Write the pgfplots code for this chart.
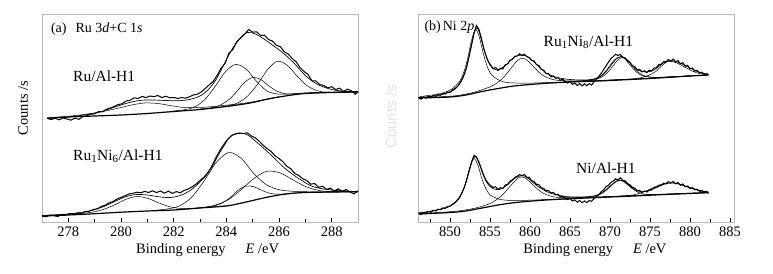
\documentclass[border=0pt]{standalone}
\usepackage{pgfplots}
\pgfplotsset{compat=1.18}
\usepackage{fontspec}
\setmainfont{Liberation Serif}
\setsansfont{Liberation Sans}
\pgfplotsset{
  xps/.style={scale only axis, width=316pt, height=208pt, anchor=south west,
    ymin=0, ymax=208, ytick=\empty, tick pos=left, xtick align=inside,
    major tick length=4pt, minor tick length=3.5pt,
    axis line style={draw=gray!55, line width=0.9pt},
    tick style={black, line width=0.5pt},
    ticklabel style={font=\fontsize{14.5}{16}\selectfont},
    xticklabel style={yshift=-1.5pt},
    /pgf/number format/assume math mode=true, clip mode=individual},
  raw/.style={black, line width=1pt},
  env/.style={black, line width=0.65pt, smooth},
  comp/.style={black, line width=0.5pt, smooth},
  bgl/.style={black, line width=1.2pt, smooth},
}
\tikzset{
  lab/.style={font=\fontsize{15.5}{17}\selectfont, anchor=base west, inner sep=0pt},
  plab/.style={font=\fontsize{14}{16}\selectfont, anchor=base west, inner sep=0pt},
  axlab/.style={font=\fontsize{14.5}{16}\selectfont, inner sep=0pt},
}
\begin{document}
\begin{tikzpicture}
\useasboundingbox (0,0) rectangle (773pt,273pt);
% ---------------- (a) ----------------
\begin{axis}[xps, at={(42pt,51pt)}, xmin=277, xmax=289,
  xtick={278,280,...,288}, minor xtick={277,279,...,289}]
% Ru/Al-H1 background
\addplot[bgl] coordinates {(277.2,103.8) (278,105) (279,106) (280,107) (281,108.5) (282,110.5) (283,112.5) (284,115.5) (284.5,117.3) (285,119.5) (285.5,122.5) (286,125) (286.5,127) (287,128.5) (288,129.5) (289,130)};
% components
\addplot[comp] coordinates {(277.2,104.2) (278.0,105.8) (278.5,107.2) (279.0,109) (279.5,111.5) (280.0,114.5) (280.4,117) (280.9,119) (281.4,118.5) (281.9,116.3) (282.4,114.5) (282.9,114.5) (283.4,115.2) (284.0,116.8) (284.5,118.2) (285,120.2) (286,125.4)};
\addplot[comp] coordinates {(282,111) (282.35,112) (282.75,114.6) (283.15,121.5) (283.55,134.6) (283.95,149.8) (284.35,157.6) (284.75,152.9) (285.15,140.6) (285.55,130.9) (285.95,128) (286.35,128) (286.8,128.8) (287.5,129.6) (289,130.4)};
\addplot[comp] coordinates {(283,113) (283.5,114.6) (283.8,117.4) (284.1,122.4) (284.4,130.6) (284.7,139.8) (285.0,144.5) (285.3,142.6) (285.6,136.4) (285.9,131.1) (286.2,128.4) (286.5,127.9) (287,128.8) (288,129.7) (289,130.2)};
\addplot[comp] coordinates {(283.5,114) (284.075,116.2) (284.45,119.3) (284.825,126.4) (285.2,138.3) (285.575,152.7) (285.95,160.8) (286.325,156.5) (286.7,145.6) (287.075,136.2) (287.45,131.3) (287.825,129.8) (288.5,129.9) (289,130.1)};
% envelope
\addplot[env] coordinates {(277.3,104) (278.0,105) (278.6,107) (279.2,110) (279.6,113.5) (280.0,117) (280.4,120) (280.8,121.8) (281.2,122) (281.7,121.5) (282.2,121.3) (282.6,122.5) (283.0,126) (283.3,132) (283.6,142) (283.9,157) (284.2,172) (284.5,183) (284.8,189.5) (285.1,188) (285.4,183.5) (285.8,176) (286.2,168) (286.6,158) (287.0,146.5) (287.4,138.5) (287.8,134) (288.2,131.5) (288.6,130.5) (289.0,130)};
% raw
\addplot[raw] coordinates {(277.2,103.5) (277.35,102.5) (277.5,103.8) (277.65,102.2) (277.8,104) (277.95,103) (278.1,101.8) (278.25,103.9) (278.4,102.6) (278.55,105.5) (278.7,106.2) (278.85,107.8) (279.0,108.2) (279.15,110.5) (279.3,110.2) (279.45,112.8) (279.6,114) (279.75,115.6) (279.9,117.5) (280.05,118.3) (280.2,121) (280.35,121.8) (280.5,124.2) (280.65,123.5) (280.8,125.6) (280.95,124.4) (281.1,126) (281.25,125.3) (281.4,126.5) (281.55,124.4) (281.7,125.8) (281.85,124.2) (282.0,124.5) (282.15,123.6) (282.3,124.4) (282.45,123.8) (282.6,125.2) (282.75,127) (282.9,127.8) (283.05,130) (283.2,133.5) (283.35,137.2) (283.5,140.5) (283.65,146.5) (283.8,153.8) (283.95,158.5) (284.1,169) (284.25,172.5) (284.4,180.5) (284.55,184) (284.7,188.2) (284.85,192.5) (285.0,189.8) (285.15,190.2) (285.3,186.5) (285.45,186.8) (285.6,182.5) (285.75,181) (285.9,176.6) (286.05,175.3) (286.2,170.2) (286.35,168) (286.5,163.5) (286.65,160.2) (286.8,154.4) (286.95,150.5) (287.1,147.6) (287.25,141.2) (287.4,141) (287.55,137.4) (287.7,136.5) (287.85,134.2) (288.0,135.3) (288.15,132.4) (288.3,133.8) (288.45,130.6) (288.6,132.8) (288.75,131.2) (288.9,127.8) (289.0,130.5)};
% Ru1Ni6/Al-H1 background
\addplot[bgl] coordinates {(277,6) (278,7) (279,8.3) (280,9.8) (281,11) (282,12) (283,14) (284,16) (284.5,18.5) (285,21.5) (285.5,24.5) (286,27) (286.5,28.7) (287,29.5) (288,30) (289,30.3)};
\addplot[comp] coordinates {(277,6.1) (278.475,8.7) (278.9,9.8) (279.325,12.5) (279.75,17.1) (280.175,22.6) (280.6,25.5) (281.025,23.6) (281.45,18.9) (281.875,15.1) (282.3,13.5) (282.725,13.6) (283.3,14.8) (284,16.2)};
\addplot[comp] coordinates {(281.2,11.5) (281.725,12.9) (282.2,15.9) (282.675,24.5) (283.15,40.8) (283.625,59.8) (284.1,69.5) (284.575,63.4) (285.05,48.2) (285.525,37.2) (286.0,32.3) (286.475,30.8) (287.0,30.3) (287.5,30.1) (289,30.4)};
\addplot[comp] coordinates {(283,14.2) (283.25,14.8) (283.55,16.1) (283.85,19.1) (284.15,24.6) (284.45,31.9) (284.75,36) (285.05,35.2) (285.35,31.6) (285.65,28.7) (285.95,27.8) (286.25,28.1) (286.8,29.2) (288,30) (289,30.3)};
\addplot[comp] coordinates {(282.5,13) (283.05,14.4) (283.55,16.7) (284.05,21.9) (284.55,32) (285.05,43.6) (285.55,50.8) (286.05,49) (286.55,41.8) (287.05,35) (287.55,31.4) (288.05,30.3) (289,30.3)};
\addplot[env] coordinates {(277.0,6.5) (278.0,8) (278.8,11) (279.3,15) (279.8,21) (280.2,25.5) (280.6,27.5) (281.0,27) (281.5,25) (281.9,24.5) (282.3,27) (282.65,32) (283.0,40) (283.3,49) (283.67,68) (283.92,78.5) (284.24,87) (284.56,88.7) (284.81,87) (285.19,79) (285.7,67) (286.21,54) (286.72,44) (287.23,36) (287.7,33) (288.2,31.5) (289.0,30.3)};
\addplot[raw] coordinates {(277.0,6) (277.15,5.2) (277.3,7) (277.45,6.3) (277.6,5.5) (277.75,7.6) (277.9,6.8) (278.05,8.5) (278.2,7.4) (278.35,9.2) (278.5,8.6) (278.65,10.4) (278.8,10.8) (278.95,12.5) (279.1,13.2) (279.25,15.5) (279.4,16.8) (279.55,19.2) (279.7,20.5) (279.85,23) (280.0,24.6) (280.15,26.2) (280.3,28) (280.45,28.6) (280.6,29.8) (280.75,29.2) (280.9,30.6) (281.05,29.5) (281.2,31.2) (281.35,29.4) (281.5,31) (281.65,28.8) (281.8,30.8) (281.95,28.6) (282.1,30.4) (282.25,29.2) (282.4,31.6) (282.55,33) (282.7,35.2) (282.85,37.8) (283.0,41.5) (283.15,44.8) (283.3,49.5) (283.45,55) (283.6,62.5) (283.75,69.8) (283.9,76) (284.05,82.5) (284.2,86.5) (284.35,88.2) (284.5,89) (284.65,88.4) (284.8,89.2) (284.95,86) (285.1,84.2) (285.25,80.8) (285.4,76.6) (285.55,73.5) (285.7,70.6) (285.85,66.2) (286.0,63.5) (286.15,60.2) (286.3,55.6) (286.45,53.2) (286.6,48.4) (286.75,46.5) (286.9,43.2) (287.05,41.6) (287.2,37.8) (287.35,38.5) (287.5,34.6) (287.65,35.8) (287.8,32.6) (287.95,33.8) (288.1,31) (288.25,33.2) (288.4,30.8) (288.55,32.4) (288.7,30) (288.85,28.2) (289.0,31.2)};
\node[plab] at (rel axis cs:0.028,0.909) {(a)\hspace{9pt}Ru 3\textit{d}+C 1\textit{s}};
\node[lab] at (rel axis cs:0.098,0.675) {Ru/Al-H1};
\node[lab] at (rel axis cs:0.098,0.298) {Ru\textsubscript{1}Ni\textsubscript{6}/Al-H1};
\node[axlab] at (rel axis cs:0.524,-0.135) {Binding energy\hspace{20pt}\textit{E} /eV};
\node[axlab, rotate=90] at (rel axis cs:-0.06,0.548) {Counts /s};
\end{axis}
% ---------------- (b) ----------------
\begin{axis}[xps, at={(418pt,51pt)}, xmin=846, xmax=885.5,
  xtick={850,855,...,885}, minor xtick={847.5,852.5,...,882.5}]
\addplot[bgl] coordinates {(846.1,124) (850,125) (852,127) (854,130.5) (856,133.5) (858,136) (860,137.5) (862,138.7) (865,140) (868,140.8) (870,141.5) (872,142.3) (875,143.5) (878,145) (880,146) (882.3,147)};
\addplot[comp] coordinates {(846.2,125.4) (848.2,127.5) (849.2,129.3) (850.2,132.8) (851.2,140.5) (851.7,149.3) (852.2,163.3) (852.7,182) (853.2,192.6) (853.7,184) (854.2,167.3) (854.7,154.5) (855.2,147.1) (856.2,141.5) (857.2,139.4) (858.2,139) (860.2,138.9) (863,139.7) (868,141.1) (875,143.7) (882.3,147.1)};
\addplot[comp] coordinates {(846.1,124.3) (849,125.3) (851,126.5) (853,129.7) (854,132.3) (855,135.1) (855.5,137.1) (856,139.7) (856.5,143.1) (857,147.5) (857.5,152.4) (858,157.6) (858.5,161.9) (859,163.8) (859.5,162.6) (860,159.1) (860.5,154.8) (861,150.7) (861.5,147.2) (862,144.9) (863,142.2) (864,141.3) (865,141.2) (867,141.2) (869,141.7) (875,143.8) (882.3,147.2)};
\addplot[comp] coordinates {(864,139.6) (866.3,141.1) (867.3,141.7) (867.8,142.4) (868.3,143.4) (868.8,145.4) (869.3,148.5) (869.8,153.1) (870.3,158.4) (870.8,163.1) (871.3,165.1) (871.8,163.5) (872.3,159.1) (872.8,154.2) (873.3,150) (873.8,147.2) (874.3,145.6) (874.8,145) (875.3,144.6) (876.3,144.8) (878,145.3) (880,146.2)};
\addplot[comp] coordinates {(866.8,141.2) (867.6,141.8) (868.1,142.5) (868.6,143.6) (869.1,145.6) (869.6,148.7) (870.1,153.2) (870.6,158.4) (871.1,162.9) (871.6,164.6) (872.1,162.8) (872.6,158.4) (873.1,153.5) (873.6,149.5) (874.1,146.8) (874.6,145.5) (875.1,144.9) (876.1,144.6) (877.5,145) (880,146.2)};
\addplot[comp] coordinates {(870,141.6) (872.8,143) (873.8,144.1) (874.3,145.3) (874.8,146.6) (875.3,148.5) (875.8,151) (876.3,154.9) (876.8,158.4) (877.3,160.7) (877.8,160.5) (878.3,159.2) (878.8,157.3) (879.3,154.9) (879.8,153) (880.3,150.8) (880.8,149.3) (881.3,148.3) (881.8,147.7) (882.3,147.5)};
\addplot[env] coordinates {(846,124.5) (847,125) (848,126) (849,127.5) (850,130) (850.5,132) (851,136) (851.5,142) (852,153) (852.5,170) (853,188) (853.3,194) (853.6,191) (854,180) (854.5,166) (855,157) (855.5,153) (856,152) (856.5,154) (857,157) (857.5,161) (858,164.5) (858.5,166.5) (859,167) (859.5,166) (860,163.5) (860.5,160) (861,156) (861.5,152.5) (862,149) (863,145.5) (864,143.5) (865,142.5) (866,142) (867,142) (868,143) (868.5,144.5) (869,147) (869.5,151) (870,156.5) (870.5,161.5) (871,164.5) (871.4,165.5) (872,163) (872.5,159) (873,155) (873.5,152) (874,150.5) (874.5,150) (875,150.5) (875.5,152) (876,155) (876.5,158) (877,160.5) (877.5,161.3) (878,161) (878.5,159.8) (879,158) (879.5,156) (880,154) (880.5,152) (881,150.3) (881.5,149) (882,148) (882.3,147.5)};
\addplot[raw] coordinates {(846.1,124) (846.4,122.8) (846.7,125.2) (847.0,123.9) (847.3,125.8) (847.6,124.5) (847.9,126.6) (848.2,125.4) (848.5,127.8) (848.8,126.5) (849.1,128.6) (849.4,128) (849.7,130.2) (850.0,129.6) (850.3,132) (850.6,133.5) (850.9,135.2) (851.2,138.5) (851.5,142.6) (851.8,148) (852.1,155.2) (852.4,166) (852.7,177.5) (853.0,189) (853.3,196.5) (853.6,193) (853.9,184.5) (854.2,174) (854.5,166.5) (854.8,160.2) (855.1,156.8) (855.4,153.2) (855.7,154.6) (856.0,151.6) (856.3,153.8) (856.6,153) (856.9,157.2) (857.2,158) (857.5,161.8) (857.8,162.6) (858.1,165.8) (858.4,166) (858.7,168.2) (859.0,166.4) (859.3,167.8) (859.6,165.2) (859.9,164.6) (860.2,161.4) (860.5,161.2) (860.8,157.4) (861.1,156.6) (861.4,152.6) (861.7,152) (862.0,148.4) (862.3,148.6) (862.6,145.2) (862.9,146) (863.2,143.6) (863.5,144.2) (863.8,141.8) (864.1,142.8) (864.4,140.5) (864.7,139) (865.0,140.6) (865.3,137.5) (865.6,139.2) (865.9,136.4) (866.2,138.6) (866.5,136) (866.8,138.2) (867.1,136.2) (867.4,138.4) (867.7,137) (868.0,140.2) (868.3,142.6) (868.6,145.8) (868.9,148.6) (869.2,152.4) (869.5,156) (869.8,159.8) (870.1,163.2) (870.4,165.4) (870.7,167.8) (871.0,166.5) (871.3,167.6) (871.6,164.8) (871.9,164) (872.2,160.6) (872.5,159.6) (872.8,156) (873.1,155.4) (873.4,152.2) (873.7,152.6) (874.0,150) (874.3,151.4) (874.6,149.4) (874.9,151.8) (875.2,151) (875.5,154) (875.8,154.2) (876.1,157.5) (876.4,157.8) (876.7,160.4) (877.0,160.2) (877.3,162.6) (877.6,160.8) (877.9,163) (878.2,160.2) (878.5,161.4) (878.8,158.2) (879.1,159.4) (879.4,155.8) (879.7,156.6) (880.0,153.2) (880.3,154) (880.6,150.8) (880.9,151.6) (881.2,149) (881.5,149.8) (881.8,147.4) (882.1,148.4) (882.3,146.8)};
% Ni/Al-H1
\addplot[bgl] coordinates {(846.1,8) (850,9.5) (852,11) (854,14) (856,17) (858,19.3) (860,20.8) (862,22) (865,23.3) (868,24.3) (870,25) (873,26) (876,27.2) (879,28.2) (882.3,29.3)};
\addplot[comp] coordinates {(846.1,9) (848,11.3) (849,12.9) (850,15.6) (851,22) (851.5,29.2) (852,40) (852.5,55.2) (853,63.5) (853.5,56.6) (854,43) (854.5,33.2) (855,27.2) (856,23.1) (857,21.8) (858,21.6) (860,21.8) (863,22.8) (868,24.6) (875,27) (882.3,29.4)};
\addplot[comp] coordinates {(846.1,8.3) (849,9.7) (851,11) (853,13.6) (854,15.7) (855,18.4) (855.4,20.1) (855.9,22.7) (856.4,25.9) (856.9,30) (857.4,34.6) (857.9,39.2) (858.4,43.2) (858.9,45) (859.4,44) (859.9,40.7) (860.4,36.9) (860.9,33.2) (861.4,30) (861.9,27.8) (862.9,25.2) (863.9,24.5) (864.9,24.4) (867,24.7) (869,25.2) (875,27.3) (882.3,29.6)};
\addplot[comp] coordinates {(864,23) (866.7,24.6) (867.7,25.2) (868.2,25.9) (868.7,27.4) (869.2,29.6) (869.7,32.8) (870.2,36.5) (870.7,39.9) (871.2,41.4) (871.7,40.3) (872.2,37.2) (872.7,33.9) (873.2,31.1) (873.7,29.1) (874.2,28) (874.7,27.6) (875.7,27.5) (878,28) (880,28.6)};
\addplot[comp] coordinates {(869,24.7) (872.4,26.5) (873.4,28.1) (874.4,30.7) (875.4,34.3) (876.4,37.6) (877.4,39.2) (878.4,38.3) (879.4,35.8) (880.4,32.9) (881.4,31) (882.3,30.1)};
\addplot[env] coordinates {(846,9) (847,10) (848,11.5) (849,13.3) (850,16) (850.5,18.5) (851,22.5) (851.5,29) (852,40) (852.5,54) (852.8,62) (853.1,65.5) (853.4,63) (853.8,55) (854.2,46) (854.6,39.5) (855,35.5) (855.5,33) (856,32.3) (856.5,33.5) (857,36) (857.5,39.5) (858,43) (858.5,45.5) (858.9,46.3) (859.3,46) (859.8,43.5) (860.3,40) (860.8,36.8) (861.3,34) (861.8,31.5) (862.5,29) (863.5,26.8) (864.5,25.5) (865.5,25) (866.5,25) (867.5,25.5) (868.2,26.5) (868.8,28.5) (869.3,31) (869.8,34.5) (870.3,38) (870.8,41) (871.2,42) (871.6,41.3) (872.1,38.5) (872.6,35) (873.1,32.3) (873.6,30.8) (874.1,30.3) (874.6,30.7) (875.1,32) (875.6,33.8) (876.1,35.5) (876.6,37.3) (877.1,38.5) (877.6,39.2) (878.1,39) (878.6,38) (879.1,36.8) (879.6,35.5) (880.1,34.2) (880.6,33) (881.1,31.8) (881.6,30.8) (882.3,30)};
\addplot[raw] coordinates {(846.1,8.5) (846.4,7.4) (846.7,9.6) (847.0,8.8) (847.3,10.5) (847.6,9.6) (847.9,11.8) (848.2,11) (848.5,12.8) (848.8,12.2) (849.1,14.2) (849.4,13.6) (849.7,15.6) (850.0,15.8) (850.3,17.8) (850.6,19.2) (850.9,22) (851.2,24.6) (851.5,29.5) (851.8,34.8) (852.1,42.6) (852.4,51.5) (852.7,60.2) (853.0,66.5) (853.3,65.2) (853.6,60.4) (853.9,53.5) (854.2,47.2) (854.5,41.8) (854.8,38.6) (855.1,36.2) (855.4,34.6) (855.7,35.2) (856.0,32.6) (856.3,34.4) (856.6,33.4) (856.9,37) (857.2,37.6) (857.5,40.8) (857.8,42.2) (858.1,44.6) (858.4,45.8) (858.7,47.4) (859.0,46.2) (859.3,47.6) (859.6,44.6) (859.9,44.8) (860.2,41.4) (860.5,40.6) (860.8,37.6) (861.1,37.4) (861.4,34.2) (861.7,33.6) (862.0,31.2) (862.3,31.4) (862.6,29) (862.9,29.6) (863.2,27.2) (863.5,27.8) (863.8,25.2) (864.1,25.8) (864.4,23.4) (864.7,22.4) (865.0,23.6) (865.3,21) (865.6,22.2) (865.9,19.8) (866.2,21.6) (866.5,19.2) (866.8,21) (867.1,19.4) (867.4,21.4) (867.7,20.8) (868.0,23.4) (868.3,25.6) (868.6,27.2) (868.9,30.4) (869.2,32.2) (869.5,35.4) (869.8,36.6) (870.1,39.6) (870.4,40.8) (870.7,43.2) (871.0,42) (871.3,44.2) (871.6,41.6) (871.9,41.2) (872.2,38.4) (872.5,37.2) (872.8,34.6) (873.1,33.8) (873.4,31.2) (873.7,31.6) (874.0,29.6) (874.3,31) (874.6,30) (874.9,32.2) (875.2,32) (875.5,34.6) (875.8,34.4) (876.1,36.8) (876.4,36.6) (876.7,38.8) (877.0,38.2) (877.3,40.4) (877.6,38.8) (877.9,40.6) (878.2,38.2) (878.5,39.6) (878.8,36.8) (879.1,38) (879.4,35.2) (879.7,36) (880.0,33.4) (880.3,34.4) (880.6,32.2) (880.9,32.8) (881.2,30.6) (881.5,31.4) (881.8,29.4) (882.1,30.2) (882.3,28.6)};
\node[plab] at (rel axis cs:0.02,0.92) {(b)\hspace{2pt}Ni 2\textit{p}};
\node[lab] at (rel axis cs:0.397,0.843) {Ru\textsubscript{1}Ni\textsubscript{8}/Al-H1};
\node[lab] at (rel axis cs:0.5,0.234) {Ni/Al-H1};
\node[axlab] at (rel axis cs:0.56,-0.135) {Binding energy\hspace{20pt}\textit{E} /eV};
\node[inner sep=0pt, rotate=90, text=gray!22, font=\sffamily\fontsize{15}{17}\selectfont] at (rel axis cs:-0.0854,0.505) {Counts /s};
\end{axis}
\end{tikzpicture}
\end{document}
